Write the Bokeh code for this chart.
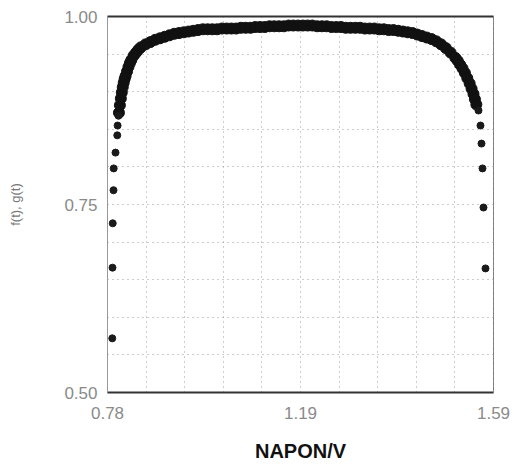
import numpy as np
from bokeh.plotting import figure
from bokeh.models import FixedTicker, LinearAxis, Range1d
from bokeh.embed import file_html
from bokeh.resources import INLINE

# ---- data ----
x_ticks = [0.78, 1.185, 1.59]
x_tick_labels = ["0.78", "1.19", "1.59"]
y_ticks = [0.50, 0.75, 1.00]
y_tick_labels = ["0.50", "0.75", "1.00"]

# isolated points at the steep left edge
left_x = [0.7900, 0.7905, 0.7910, 0.7926, 0.7930, 0.7968, 0.8005, 0.8012, 0.8031]
left_y = [0.572, 0.666, 0.725, 0.769, 0.798, 0.819, 0.842, 0.855, 0.868]

# dense band of points (overlapping markers)
band_x = [0.804, 0.806, 0.808, 0.810, 0.812, 0.814, 0.816, 0.818, 0.821, 0.824,
          0.827, 0.830, 0.835, 0.840, 0.845, 0.850,
          0.86, 0.87, 0.88, 0.89, 0.90, 0.91, 0.92, 0.93, 0.94, 0.95,
          0.96, 0.97, 0.98, 0.99, 1.00, 1.01, 1.02, 1.03, 1.04, 1.05,
          1.06, 1.07, 1.08, 1.09, 1.10, 1.11, 1.12, 1.13, 1.14, 1.15,
          1.16, 1.17, 1.18, 1.19, 1.20, 1.21, 1.22, 1.23, 1.24, 1.25,
          1.26, 1.27, 1.28, 1.29, 1.30, 1.31, 1.32, 1.33, 1.34, 1.35,
          1.36, 1.37, 1.38, 1.39, 1.40, 1.41, 1.42, 1.43, 1.44, 1.45,
          1.46, 1.47, 1.48, 1.49, 1.50, 1.51, 1.515, 1.52, 1.525, 1.53,
          1.535, 1.54, 1.544, 1.548, 1.551, 1.554]
band_y = [0.872, 0.882, 0.891, 0.899, 0.906, 0.912, 0.917, 0.921, 0.927, 0.933,
          0.938, 0.942, 0.948, 0.952, 0.956, 0.959,
          0.963, 0.966, 0.969, 0.971, 0.973, 0.975, 0.977, 0.978, 0.979, 0.980,
          0.981, 0.982, 0.983, 0.983, 0.983, 0.983, 0.984, 0.984, 0.984, 0.984,
          0.985, 0.985, 0.985, 0.986, 0.986, 0.986, 0.987, 0.987, 0.987, 0.987,
          0.988, 0.988, 0.988, 0.988, 0.988, 0.988, 0.987, 0.987, 0.987, 0.986,
          0.986, 0.986, 0.985, 0.985, 0.985, 0.985, 0.984, 0.984, 0.984, 0.983,
          0.983, 0.982, 0.982, 0.981, 0.980, 0.979, 0.978, 0.976, 0.974, 0.972,
          0.970, 0.967, 0.963, 0.958, 0.952, 0.945, 0.941, 0.936, 0.931, 0.925,
          0.918, 0.911, 0.904, 0.897, 0.890, 0.883]

# isolated points at the steep right edge
right_x = [1.5585, 1.5627, 1.5648, 1.5669, 1.5690, 1.5732]
right_y = [0.875, 0.855, 0.831, 0.798, 0.746, 0.665]

# ---- figure ----
p = figure(width=512, height=470, output_backend="svg", toolbar_location=None,
           x_range=Range1d(0.78, 1.59), y_range=Range1d(0.50, 1.00),
           min_border_left=107, min_border_right=19, min_border_top=16,
           min_border_bottom=78)
p.background_fill_color = "white"
p.border_fill_color = "white"
p.outline_line_color = "#777777"
p.outline_line_width = 1

# grid: 10 divisions each way, dotted
p.xgrid.ticker = FixedTicker(ticks=list(np.linspace(0.78, 1.59, 11)))
p.ygrid.ticker = FixedTicker(ticks=list(np.linspace(0.50, 1.00, 11)))
for g in (p.xgrid, p.ygrid):
    g.grid_line_color = "#9a9a9a"
    g.grid_line_dash = "1 4"
    g.grid_line_width = 1

lbl_font = "Liberation Sans"
p.xaxis.ticker = FixedTicker(ticks=x_ticks)
p.xaxis.major_label_overrides = {t: s for t, s in zip(x_ticks, x_tick_labels)}
p.yaxis.ticker = FixedTicker(ticks=y_ticks)
p.yaxis.major_label_overrides = {t: s for t, s in zip(y_ticks, y_tick_labels)}

for ax in (p.xaxis, p.yaxis):
    ax.major_tick_out = 0
    ax.major_tick_in = 0
    ax.minor_tick_out = 0
    ax.minor_tick_in = 0
    ax.major_label_text_font = lbl_font
    ax.major_label_text_font_size = "17px"
    ax.major_label_text_color = "#8a8a8a"

p.xaxis.axis_line_color = "#333333"
p.xaxis.axis_line_width = 2
p.yaxis.axis_line_color = "#999999"
p.xaxis.major_label_standoff = 14
p.yaxis.major_label_standoff = 10

p.xaxis.axis_label = "NAPON/V"
p.xaxis.axis_label_text_font = lbl_font
p.xaxis.axis_label_text_font_style = "bold"
p.xaxis.axis_label_text_font_size = "20px"
p.xaxis.axis_label_text_color = "#111111"
p.xaxis.axis_label_standoff = 18

p.yaxis.axis_label = "f(t), g(t)"
p.yaxis.axis_label_text_font = lbl_font
p.yaxis.axis_label_text_font_style = "normal"
p.yaxis.axis_label_text_font_size = "13px"
p.yaxis.axis_label_text_color = "#777777"
p.yaxis.axis_label_standoff = 38

# top border: darker line; right border: dashed grey
top_ax = LinearAxis(ticker=FixedTicker(ticks=[]), axis_line_color="#333333",
                    axis_line_width=2, major_label_text_font_size="0px")
p.add_layout(top_ax, "above")
right_ax = LinearAxis(ticker=FixedTicker(ticks=[]), axis_line_color="#888888",
                      axis_line_width=1, axis_line_dash="3 2",
                      major_label_text_font_size="0px")
p.add_layout(right_ax, "right")

p.scatter(band_x, band_y, size=11, color="#111111", marker="circle")
p.scatter(left_x, left_y, size=7, color="#1a1a1a", marker="circle")
p.scatter(right_x, right_y, size=7, color="#1a1a1a", marker="circle")

open("out.html", "w").write(file_html(p, INLINE))
